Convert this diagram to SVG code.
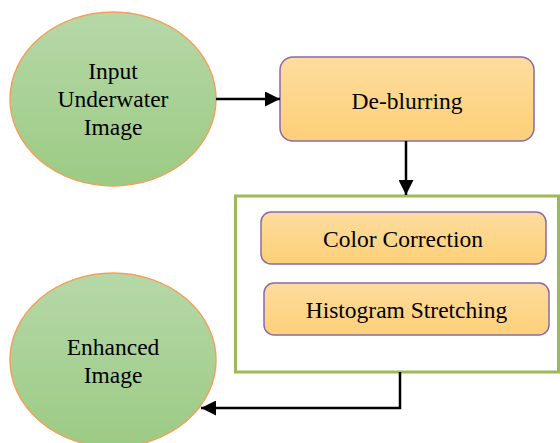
<svg xmlns="http://www.w3.org/2000/svg" width="560" height="443" viewBox="0 0 560 443">
  <defs>
    <linearGradient id="greenFill" x1="0" y1="0" x2="0" y2="1">
      <stop offset="0" stop-color="#b6d8a8"/>
      <stop offset="1" stop-color="#9ccb84"/>
    </linearGradient>
    <linearGradient id="amberFill" x1="0" y1="0" x2="0" y2="1">
      <stop offset="0" stop-color="#fedc9e"/>
      <stop offset="1" stop-color="#fdd078"/>
    </linearGradient>
    <marker id="arrow" viewBox="0 0 10 10" refX="10" refY="5" markerWidth="6" markerHeight="6" orient="auto" markerUnits="strokeWidth">
      <path d="M0,0 L10,5 L0,10 Z" fill="#000"/>
    </marker>
  </defs>
  <style>
    .ellipse { fill: url(#greenFill); stroke: #f5a05a; stroke-width: 1.5; }
    .step { fill: url(#amberFill); stroke: #8a6aa8; stroke-width: 1.5; }
    .group { fill: #fff; stroke: #9bbb59; stroke-width: 3; }
    .label { font-family: "Liberation Serif", "Times New Roman", serif; font-size: 23.5px; fill: #000; text-anchor: middle; }
    .conn { fill: none; stroke: #000; stroke-width: 2.5; marker-end: url(#arrow); }
  </style>
  <rect width="560" height="443" fill="#fff"/>

  <g id="input">
    <ellipse class="ellipse" cx="113" cy="99" rx="103" ry="87"/>
    <text class="label" x="113" y="79">Input</text>
    <text class="label" x="113" y="107">Underwater</text>
    <text class="label" x="113" y="135">Image</text>
  </g>

  <g id="deblurring">
    <rect class="step" x="280" y="57" width="254" height="84" rx="13"/>
    <text class="label" x="407" y="109">De-blurring</text>
  </g>

  <g id="enhancement">
    <rect class="group" x="235.5" y="196" width="323" height="176"/>
  </g>

  <g id="color-correction">
    <rect class="step" x="261" y="212" width="285" height="52" rx="10"/>
    <text class="label" x="403" y="247">Color Correction</text>
  </g>

  <g id="histogram-stretching">
    <rect class="step" x="264" y="283" width="285" height="52" rx="10"/>
    <text class="label" x="406.5" y="318">Histogram Stretching</text>
  </g>

  <g id="output">
    <ellipse class="ellipse" cx="113" cy="360" rx="103" ry="87"/>
    <text class="label" x="113" y="355">Enhanced</text>
    <text class="label" x="113" y="383">Image</text>
  </g>

  <g id="connectors">
    <path class="conn" d="M216,99 H280"/>
    <path class="conn" d="M406,141 V195"/>
    <path class="conn" d="M400,372 V408 H201"/>
  </g>
</svg>
